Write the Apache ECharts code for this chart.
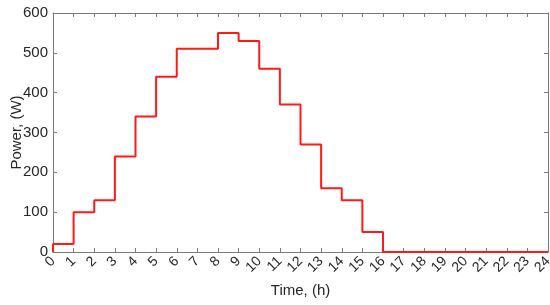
<!DOCTYPE html>
<html>
<head>
<meta charset="utf-8">
<script src="https://cdn.jsdelivr.net/npm/echarts@6/dist/echarts.min.js"></script>
<style>
  html, body { margin: 0; padding: 0; background: #fff; }
  #chart { width: 550px; height: 305px; }
</style>
</head>
<body>
<div id="chart"></div>
<script>
// hour at which each step starts, and power held over that hour
const hours = [0, 0, 1, 2, 3, 4, 5, 6, 7, 8, 9, 10, 11, 12, 13, 14, 15, 16, 17, 18, 19, 20, 21, 22, 23, 24];
const power = [0, 20, 100, 130, 240, 340, 440, 510, 510, 550, 530, 460, 370, 270, 160, 130, 50, 0, 0, 0, 0, 0, 0, 0, 0, 0];
const yTicks = [0, 100, 200, 300, 400, 500, 600];

const axisColor = '#7a7a7a';
const textColor = '#262626';
const font = 'Liberation Sans';

const chart = echarts.init(document.getElementById('chart'), null, { renderer: 'canvas' });

const option = {
  animation: false,
  grid: { left: 53, right: 2, top: 13, bottom: 53, outerBoundsMode: 'none', containLabel: false },
  xAxis: [
    {
      type: 'value',
      min: 0,
      max: 24,
      interval: 1,
      name: 'Time, (h)',
      nameLocation: 'middle',
      nameGap: 31,
      nameMoveOverlap: false,
      nameTextStyle: { color: textColor, fontFamily: font, fontSize: 15 },
      axisLine: { show: true, onZero: false, lineStyle: { color: axisColor, width: 1 } },
      axisTick: { show: true, inside: true, length: 4, lineStyle: { color: axisColor } },
      axisLabel: {
        color: textColor, fontFamily: font, fontSize: 14, rotate: 45, margin: 7,
        showMinLabel: true, showMaxLabel: true, hideOverlap: false
      },
      splitLine: { show: false }
    },
    {
      type: 'value',
      position: 'top',
      min: 0,
      max: 24,
      interval: 1,
      axisLine: { show: true, onZero: false, lineStyle: { color: axisColor, width: 1 } },
      axisTick: { show: true, inside: true, length: 4, lineStyle: { color: axisColor } },
      axisLabel: { show: false },
      splitLine: { show: false }
    }
  ],
  yAxis: [
    {
      type: 'value',
      min: yTicks[0],
      max: yTicks[yTicks.length - 1],
      interval: 100,
      name: 'Power, (W)',
      nameLocation: 'middle',
      nameGap: 29,
      nameMoveOverlap: false,
      nameTextStyle: { color: textColor, fontFamily: font, fontSize: 15 },
      axisLine: { show: true, onZero: false, lineStyle: { color: axisColor, width: 1 } },
      axisTick: { show: true, inside: true, length: 4, lineStyle: { color: axisColor } },
      axisLabel: { color: textColor, fontFamily: font, fontSize: 15, margin: 5 },
      splitLine: { show: false }
    },
    {
      type: 'value',
      position: 'right',
      min: yTicks[0],
      max: yTicks[yTicks.length - 1],
      interval: 100,
      axisLine: { show: true, onZero: false, lineStyle: { color: axisColor, width: 1 } },
      axisTick: { show: true, inside: true, length: 4, lineStyle: { color: axisColor } },
      axisLabel: { show: false },
      splitLine: { show: false }
    }
  ],
  series: [
    {
      type: 'line',
      step: 'end',
      showSymbol: false,
      data: hours.map((h, i) => [h, power[i]]),
      lineStyle: { color: '#ff1a1a', width: 2 },
      itemStyle: { color: '#ff1a1a' },
      z: 3
    }
  ]
};

chart.setOption(option);
</script>
</body>
</html>
